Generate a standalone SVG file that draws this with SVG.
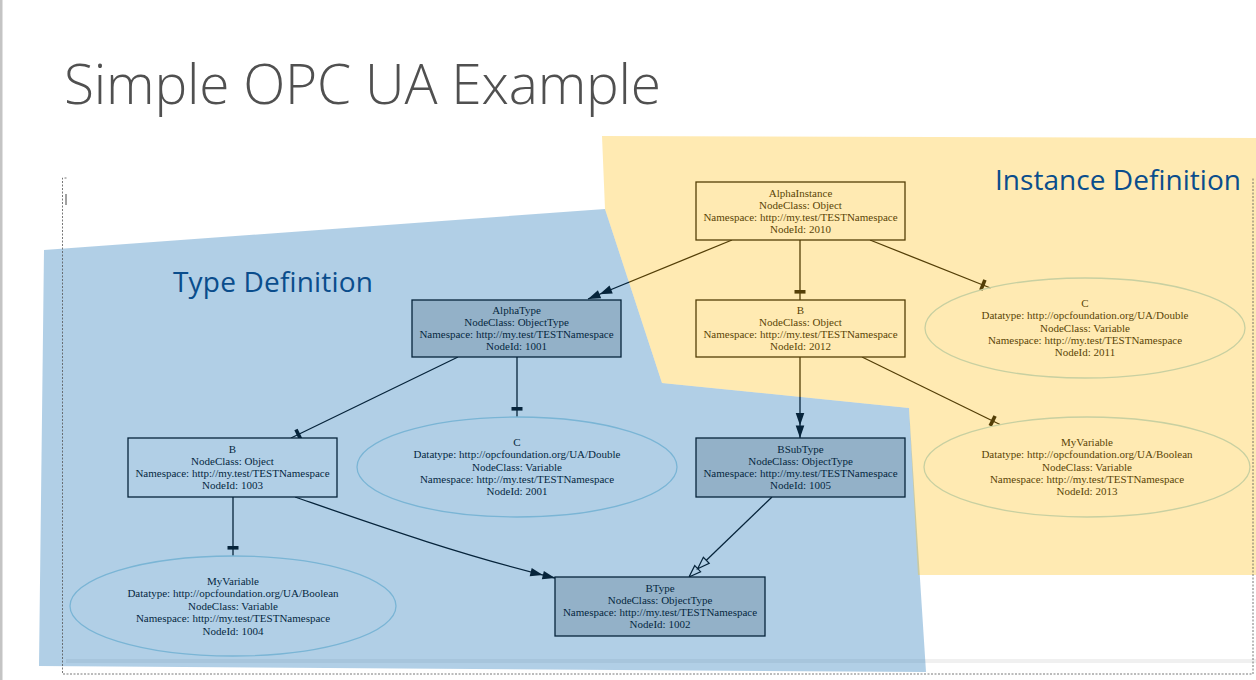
<svg xmlns="http://www.w3.org/2000/svg" width="1256" height="680" viewBox="0 0 1256 680">
<defs>
<style>
.box{stroke:#000;stroke-width:1.3}
.obj{fill:#fff}
.otype{fill:#d3d3d3}
.ell{fill:none;stroke:#add8e6;stroke-width:1.3}
.lbl{font-family:"Liberation Serif","Times New Roman",serif;font-size:11px;fill:#000;text-anchor:middle}
.edge{fill:none;stroke:#000;stroke-width:1.3}
.region{font-family:"Open Sans","Noto Sans",sans-serif;font-size:28px;fill:#0a4d8c}
</style>
<marker id="tee" viewBox="-12 -6 12 12" refX="0" refY="0" markerWidth="12" markerHeight="12" markerUnits="userSpaceOnUse" orient="auto">
<path d="M-10,-5.5 h3.6 v11 h-3.6 z" fill="#000"/>
</marker>
<marker id="dblArrow" viewBox="-26 -6 26 12" refX="0" refY="0" markerWidth="26" markerHeight="12" markerUnits="userSpaceOnUse" orient="auto">
<path d="M0,0 L-12.5,-4.3 L-12.5,4.3 Z M-12.5,0 L-25,-4.3 L-25,4.3 Z" fill="#000"/>
</marker>
<marker id="dblHollow" viewBox="-26 -6 26 12" refX="0" refY="0" markerWidth="26" markerHeight="12" markerUnits="userSpaceOnUse" orient="auto">
<path d="M-12,0 L-24,-4.2 L-24,4.2 Z M0,0 L-12,-4.2 L-12,4.2 Z" fill="#fff" stroke="#000" stroke-width="1.2"/>
</marker>
</defs>
<rect x="0" y="0" width="1256" height="680" fill="#fff"/>
<rect x="0" y="0" width="2.5" height="680" fill="#c4c4c4"/>
<text x="64" y="104" font-family="'Open Sans','Noto Sans',sans-serif" font-weight="300" font-size="55" fill="#505050" textLength="597">Simple OPC UA Example</text>

<g id="connectors">
<path class="edge" d="M732,240 L588,299" marker-end="url(#dblArrow)"/>
<path class="edge" d="M800,240 V300" marker-end="url(#tee)"/>
<path class="edge" d="M870,240 L990.5,288" marker-end="url(#tee)"/>
<path class="edge" d="M800,357 V438" marker-end="url(#dblArrow)"/>
<path class="edge" d="M862,357 L1000,424.5" marker-end="url(#tee)"/>
<path class="edge" d="M458,357 L291,438" marker-end="url(#tee)"/>
<path class="edge" d="M517,357 V417" marker-end="url(#tee)"/>
<path class="edge" d="M233,497 V556" marker-end="url(#tee)"/>
<path class="edge" d="M295,497 C370,523 460,555 555,578" marker-end="url(#dblArrow)"/>
<path class="edge" d="M772,497 L689,577" marker-end="url(#dblHollow)"/>
</g>

<g id="node-AlphaInstance">
<rect class="box obj" x="696" y="182" width="209" height="58"/>
<text class="lbl" x="800.5" y="196.5">AlphaInstance</text>
<text class="lbl" x="800.5" y="208.6">NodeClass: Object</text>
<text class="lbl" x="800.5" y="220.7">Namespace: http://my.test/TESTNamespace</text>
<text class="lbl" x="800.5" y="232.8">NodeId: 2010</text>
</g>
<g id="node-B-2012">
<rect class="box obj" x="696" y="300" width="209" height="57"/>
<text class="lbl" x="800.5" y="314">B</text>
<text class="lbl" x="800.5" y="326.1">NodeClass: Object</text>
<text class="lbl" x="800.5" y="338.2">Namespace: http://my.test/TESTNamespace</text>
<text class="lbl" x="800.5" y="350.3">NodeId: 2012</text>
</g>
<g id="node-C-2011">
<ellipse class="ell" cx="1085" cy="328" rx="160" ry="50"/>
<text class="lbl" x="1085" y="306.7">C</text>
<text class="lbl" x="1085" y="319.1">Datatype: http://opcfoundation.org/UA/Double</text>
<text class="lbl" x="1085" y="331.5">NodeClass: Variable</text>
<text class="lbl" x="1085" y="343.9">Namespace: http://my.test/TESTNamespace</text>
<text class="lbl" x="1085" y="356.3">NodeId: 2011</text>
</g>
<g id="node-MyVariable-2013">
<ellipse class="ell" cx="1087" cy="467" rx="163" ry="50"/>
<text class="lbl" x="1087" y="445.8">MyVariable</text>
<text class="lbl" x="1087" y="458.2">Datatype: http://opcfoundation.org/UA/Boolean</text>
<text class="lbl" x="1087" y="470.6">NodeClass: Variable</text>
<text class="lbl" x="1087" y="483">Namespace: http://my.test/TESTNamespace</text>
<text class="lbl" x="1087" y="495.4">NodeId: 2013</text>
</g>
<g id="node-AlphaType">
<rect class="box otype" x="412" y="300" width="209" height="57"/>
<text class="lbl" x="516.5" y="314">AlphaType</text>
<text class="lbl" x="516.5" y="326.1">NodeClass: ObjectType</text>
<text class="lbl" x="516.5" y="338.2">Namespace: http://my.test/TESTNamespace</text>
<text class="lbl" x="516.5" y="350.3">NodeId: 1001</text>
</g>
<g id="node-C-2001">
<ellipse class="ell" cx="517" cy="467" rx="160" ry="50"/>
<text class="lbl" x="517" y="445.8">C</text>
<text class="lbl" x="517" y="458.2">Datatype: http://opcfoundation.org/UA/Double</text>
<text class="lbl" x="517" y="470.6">NodeClass: Variable</text>
<text class="lbl" x="517" y="483">Namespace: http://my.test/TESTNamespace</text>
<text class="lbl" x="517" y="495.4">NodeId: 2001</text>
</g>
<g id="node-B-1003">
<rect class="box obj" x="128" y="438" width="209" height="59"/>
<text class="lbl" x="232.5" y="453">B</text>
<text class="lbl" x="232.5" y="465.1">NodeClass: Object</text>
<text class="lbl" x="232.5" y="477.2">Namespace: http://my.test/TESTNamespace</text>
<text class="lbl" x="232.5" y="489.3">NodeId: 1003</text>
</g>
<g id="node-BSubType">
<rect class="box otype" x="696" y="438" width="209" height="59"/>
<text class="lbl" x="800.5" y="453">BSubType</text>
<text class="lbl" x="800.5" y="465.1">NodeClass: ObjectType</text>
<text class="lbl" x="800.5" y="477.2">Namespace: http://my.test/TESTNamespace</text>
<text class="lbl" x="800.5" y="489.3">NodeId: 1005</text>
</g>
<g id="node-MyVariable-1004">
<ellipse class="ell" cx="233" cy="606" rx="163" ry="50"/>
<text class="lbl" x="233" y="585">MyVariable</text>
<text class="lbl" x="233" y="597.4">Datatype: http://opcfoundation.org/UA/Boolean</text>
<text class="lbl" x="233" y="609.8">NodeClass: Variable</text>
<text class="lbl" x="233" y="622.2">Namespace: http://my.test/TESTNamespace</text>
<text class="lbl" x="233" y="634.6">NodeId: 1004</text>
</g>
<g id="node-BType">
<rect class="box otype" x="555" y="577" width="210" height="59"/>
<text class="lbl" x="660" y="592">BType</text>
<text class="lbl" x="660" y="604.1">NodeClass: ObjectType</text>
<text class="lbl" x="660" y="616.2">Namespace: http://my.test/TESTNamespace</text>
<text class="lbl" x="660" y="628.3">NodeId: 1002</text>
</g>

<rect x="66" y="659" width="1190" height="4" fill="#888" fill-opacity="0.13"/>

<g id="region-type">
<polygon points="44,250 605,209 662,383 909,408 926,672 39,666" fill="rgb(19,110,179)" fill-opacity="0.33"/>
<text class="region" x="173" y="292" textLength="200">Type Definition</text>
</g>
<g id="region-instance">
<polygon points="602,136 1256,138 1256,575 918,575 909,408 662,383 605,209" fill="rgb(255,191,22)" fill-opacity="0.33"/>
<text class="region" x="995" y="189.5" textLength="246">Instance Definition</text>
</g>

<path d="M66.5,178 H62.5 V674 H1253 V178" fill="none" stroke="#555" stroke-width="0.8" stroke-dasharray="2,1.5"/>
<line x1="66" y1="194" x2="66" y2="205" stroke="#444" stroke-width="1"/>
</svg>
